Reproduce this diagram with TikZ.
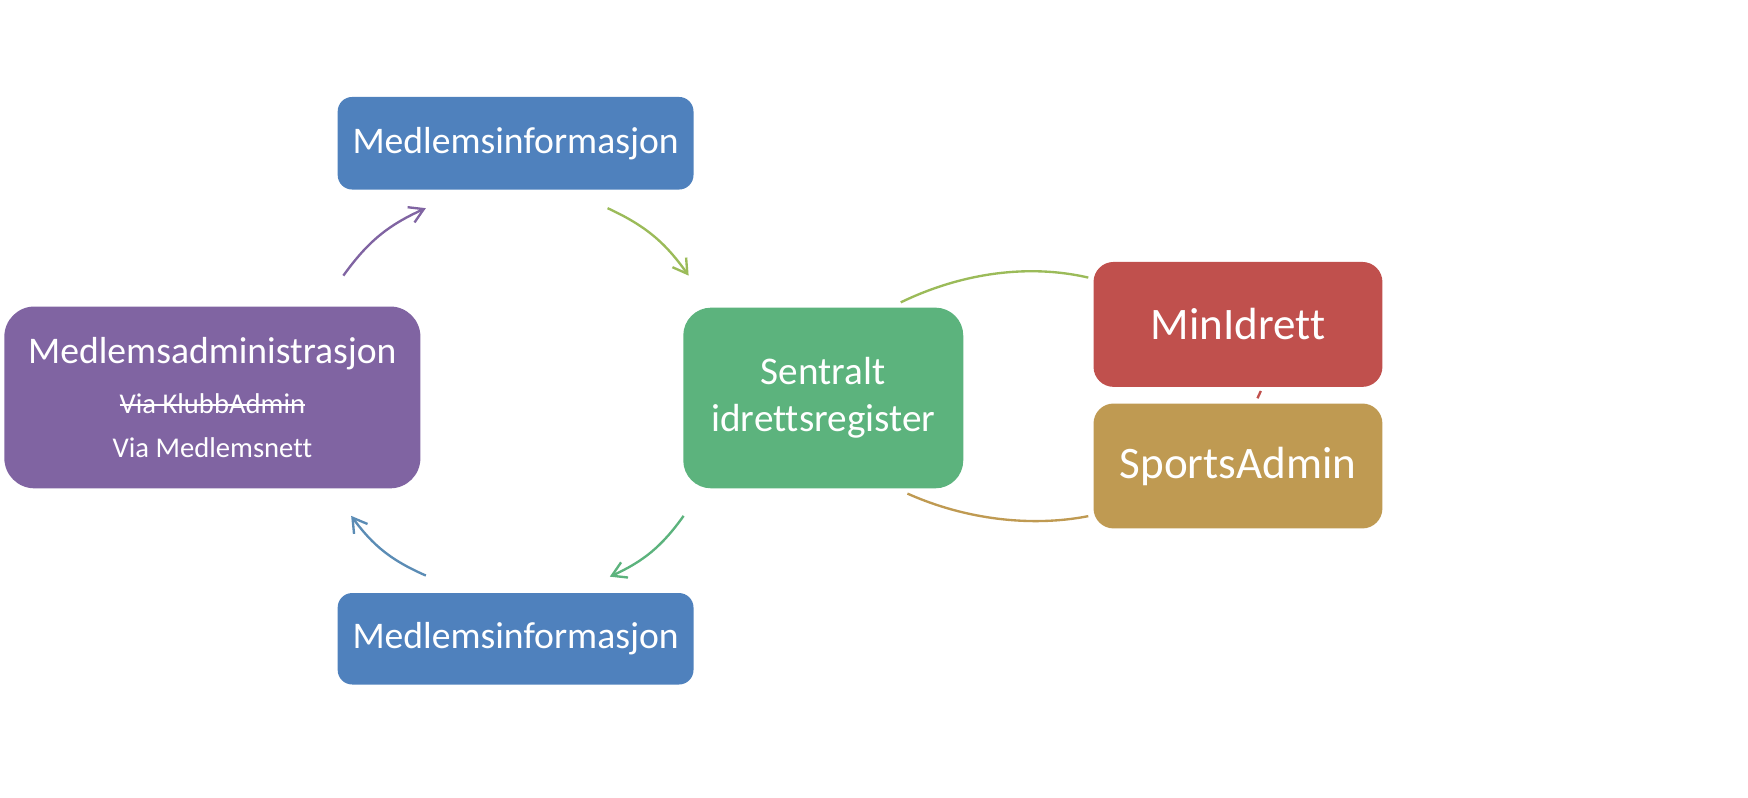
\documentclass[tikz,border=0pt]{standalone}
\usepackage{fontspec}
\setmainfont[Ligatures=CommonOff]{Carlito}
\newcommand{\strikeout}[1]{\setbox0\hbox{#1}\rlap{\rule[0.28em]{\wd0}{0.5pt}}\box0}
\usetikzlibrary{arrows.meta}
\definecolor{infoblue}{HTML}{4F81BD}
\definecolor{admpurple}{HTML}{8064A2}
\definecolor{reggreen}{HTML}{5CB37D}
\definecolor{minred}{HTML}{C0504D}
\definecolor{sportsgold}{HTML}{BF9A52}
\definecolor{olive}{HTML}{9BBB59}
\definecolor{arrblue}{HTML}{5B8CB5}
\tikzset{
  box/.style={rounded corners=#1, text=white, inner sep=0pt, align=center},
  arr/.style={-{Straight Barb[length=1.25mm,width=1.5mm]}, line width=0.6pt},
  link/.style={line width=0.6pt}
}
\begin{document}
\begin{tikzpicture}[x=0.01cm,y=-0.01cm]
	\useasboundingbox(0,0)rectangle(1568,715);
	% boxes
	\node[box=0.13cm,fill=infoblue,minimum width=3.19cm,minimum height=0.83cm,font=\fontsize{9.6}{11.5}\selectfont](info1)at(462.5,128.5){Medlemsinformasjon};
	\node[box=0.13cm,fill=infoblue,minimum width=3.19cm,minimum height=0.82cm,font=\fontsize{9.6}{11.5}\selectfont](info2)at(462.5,573){Medlemsinformasjon};
	\node[box=0.27cm,fill=admpurple,minimum width=3.73cm,minimum height=1.63cm,font=\fontsize{7.3}{11.1}\selectfont](adm)at(190.5,356.5){{\fontsize{9.6}{11.5}\selectfont Medlemsadministrasjon}\\[1.7pt]\strikeout{Via KlubbAdmin}\\Via Medlemsnett};
	\node[box=0.25cm,fill=reggreen,minimum width=2.51cm,minimum height=1.62cm,font=\fontsize{10}{11.95}\selectfont](reg)at(738.5,357){Sentralt\\idrettsregister};
	\node[box=0.18cm,fill=minred,minimum width=2.59cm,minimum height=1.12cm,font=\fontsize{11.5}{13.8}\selectfont](min)at(1110.5,291){MinIdrett};
	\node[box=0.18cm,fill=sportsgold,minimum width=2.59cm,minimum height=1.12cm,font=\fontsize{11.5}{13.8}\selectfont](sports)at(1110.5,418){SportsAdmin};
	% cycle arrows
	\draw[arr,admpurple]([shift={(117.5,-27)}]adm.north)to[bend left=15]([shift={(-80.5,16)}]info1.south);
	\draw[arr,olive]([shift={(82.5,16)}]info1.south)to[bend left=15]([shift={(5.5,-28)}]reg.north west);
	\draw[arr,reggreen]([shift={(1,24)}]reg.south west)to[bend left=15]([shift={(84.5,-14)}]info2.north);
	\draw[arr,arrblue]([shift={(-80.5,-15)}]info2.north)to[bend left=15]([shift={(124.5,24)}]adm.south);
	% links to the right
	\draw[link,olive]([shift={(69.5,-4)}]reg.north).. controls(860,246)and(920,236)..([shift={(-4,-42)}]min.west);
	\draw[link,sportsgold]([shift={(75.5,4)}]reg.south).. controls(866,466)and(925,473)..([shift={(-4,45)}]sports.west);
	\draw[link,minred]([shift={(20.5,3)}]min.south)--([shift={(17.5,-4)}]sports.north);
\end{tikzpicture}
\end{document}
